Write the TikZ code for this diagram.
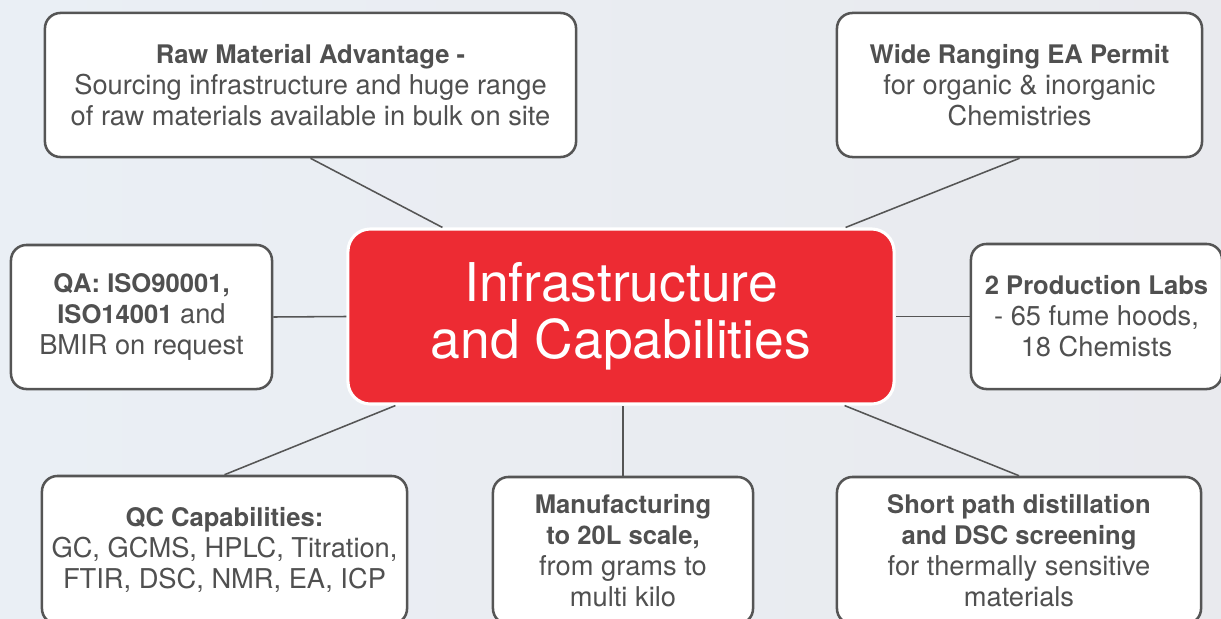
\documentclass[tikz,border=0pt]{standalone}
\usepackage{fontspec}
\setmainfont{TeX Gyre Heros}
\usepackage{xcolor}
\definecolor{capred}{RGB}{237,43,51}
\definecolor{txtgray}{RGB}{80,80,80}
\definecolor{edgegray}{RGB}{85,85,85}
\definecolor{bgleft}{RGB}{234,239,245}
\definecolor{bgright}{RGB}{233,234,238}
\usetikzlibrary{calc,positioning}
\newcommand{\hd}[1]{{\fontsize{18.2}{22}\selectfont\bfseries #1}}
\tikzset{
  card/.style={rectangle, draw=edgegray, fill=white, line width=1.8pt, rounded corners=11pt,
    align=center, text=txtgray, font=\fontsize{19.4}{22}\selectfont, inner sep=2pt},
  hub/.style={rectangle, draw=white, fill=capred, line width=2.2pt, rounded corners=16pt,
    align=center, text=white, font=\fontsize{38}{42.5}\selectfont},
  link/.style={draw=edgegray, line width=1.1pt},
}

\begin{document}
\begin{tikzpicture}[x=0.025cm, y=-0.025cm]
  \useasboundingbox (0,0) rectangle (1221,618);
  \clip (0,0) rectangle (1221,618);
  \shade[left color=bgleft, right color=bgright] (0,0) rectangle (1221,618);

  % centre
  \node[hub, minimum width=13.65cm, minimum height=4.375cm] (infra) at (621,316.5)
    {\raisebox{-2pt}{Infrastructure}\\and Capabilities};

  % top row
  \node[card, minimum width=13.275cm, minimum height=3.6cm] (raw) at (310.5,85)
    {\hd{Raw Material Advantage -}\\Sourcing infrastructure and huge range\\of raw materials available in bulk on site};
  \node[card, minimum width=9.125cm, minimum height=3.6cm] (permit) at (1019.5,85)
    {\hd{Wide Ranging EA Permit}\\for organic \& inorganic\\Chemistries};

  % middle row
  \node[card, minimum width=6.525cm, minimum height=3.6cm] (qa) at (141.5,317)
    {\hd{QA: ISO90001,}\\\hd{ISO14001} and\\BMIR on request};
  \node[card, minimum width=6.275cm, minimum height=3.625cm] (labs) at (1096.5,316.5)
    {\hd{2 Production Labs}\\- 65 fume hoods,\\18 Chemists};

  % bottom row
  \node[card, minimum width=9.125cm, minimum height=3.7cm] (qc) at (224.5,550)
    {\hd{QC Capabilities:}\\GC, GCMS, HPLC, Titration,\\FTIR, DSC, NMR, EA, ICP};
  \node[card, minimum width=6.5cm, minimum height=3.675cm] (manu) at (623,550.5)
    {\hd{Manufacturing}\\\hd{to 20L scale,}\\from grams to\\multi kilo};
  \node[card, minimum width=9.1cm, minimum height=3.675cm] (distil) at (1019,550.5)
    {\hd{Short path distillation}\\\hd{and DSC screening}\\for thermally sensitive\\materials};

  % connectors
  \draw[link] (raw.south) -- ([xshift=2.4cm]infra.north west);
  \draw[link] (permit.south) -- ([xshift=-1.25cm]infra.north east);
  \draw[link] (qa.east) -- (infra.west);
  \draw[link] (labs.west) -- (infra.east);
  \draw[link] (qc.north) -- ([xshift=1.225cm]infra.south west);
  \draw[link] (manu.north) -- (manu.north |- infra.south);
  \draw[link] (distil.north) -- ([xshift=-1.275cm]infra.south east);
\end{tikzpicture}
\end{document}
